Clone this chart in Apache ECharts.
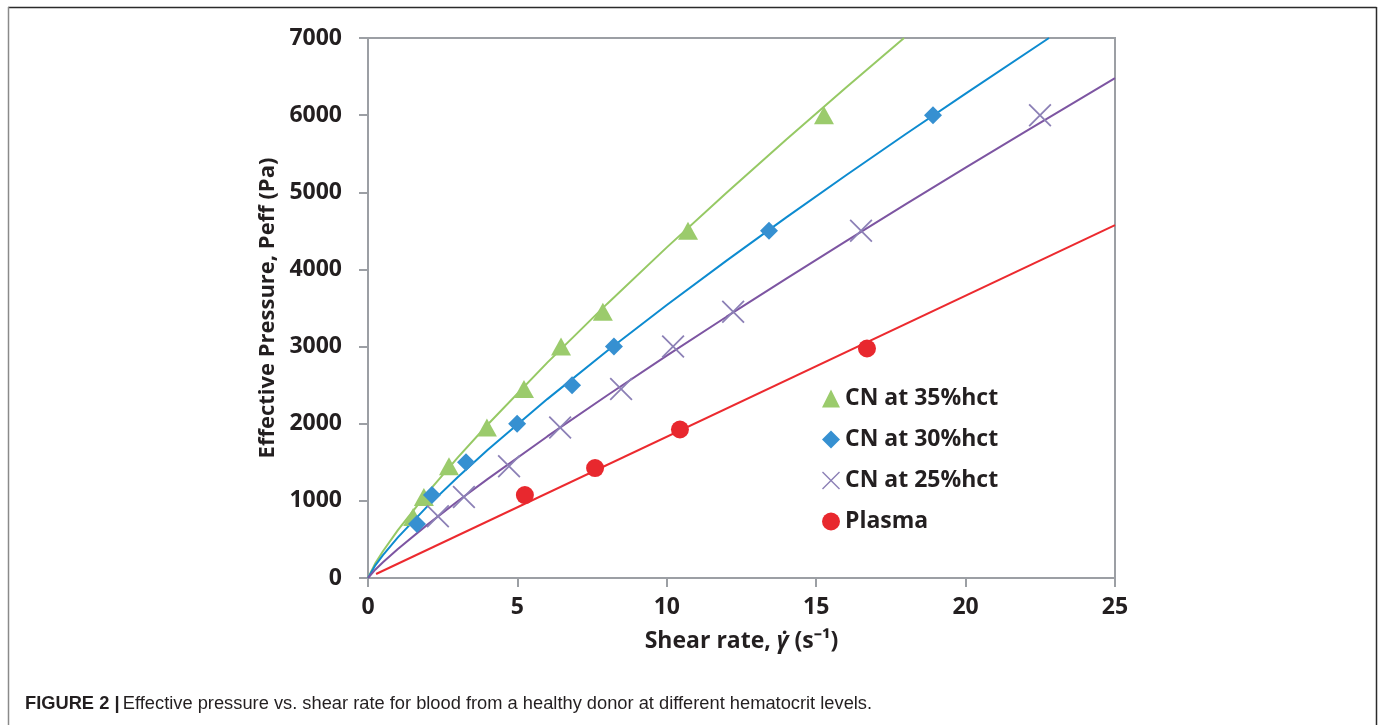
<!DOCTYPE html>
<html>
<head>
<meta charset="utf-8">
<script src="https://cdn.jsdelivr.net/npm/echarts@6/dist/echarts.min.js"></script>
<style>
  html, body { margin: 0; padding: 0; background: #fff; }
  #chart { width: 1379px; height: 725px; }
</style>
</head>
<body>
<div id="chart"></div>
<script>
// Measured points: shear rate (1/s) against effective pressure (Pa)
const hct35Shear = [1.51, 1.87, 2.71, 3.98, 5.22, 6.46, 7.86, 10.71, 15.26];
const hct35Peff  = [790, 1050, 1450, 1950, 2450, 3000, 3450, 4500, 6000];
const hct30Shear = [1.64, 2.14, 3.28, 4.99, 6.83, 8.23, 13.42, 18.91];
const hct30Peff  = [700, 1075, 1500, 2000, 2500, 3000, 4500, 6000];
const hct25Shear = [2.34, 3.21, 4.72, 6.43, 8.47, 10.21, 12.22, 16.5, 22.49];
const hct25Peff  = [800, 1050, 1450, 1950, 2450, 3000, 3450, 4500, 6000];
const plasmaShear = [5.25, 7.6, 10.44, 16.7];
const plasmaPeff  = [1075, 1425, 1925, 2975];

// Trend curves through each data set
const fit35Shear = [0, 0.25, 0.5, 1, 2, 3, 4, 6, 8, 10, 12, 14, 16, 17.94];
const fit35Peff  = [0, 194, 347, 621, 1111, 1561, 1987, 2792, 3553, 4286, 4995, 5684, 6358, 7000];
const fit30Shear = [0, 0.25, 0.5, 1, 2, 3, 4, 6, 8, 10, 12, 14, 16, 18, 20, 22.79];
const fit30Peff  = [0, 167, 297, 527, 935, 1307, 1659, 2319, 2942, 3538, 4114, 4674, 5221, 5755, 6278, 7000];
const fit25Shear = [0, 0.25, 0.5, 1, 2, 3, 4, 6, 8, 10, 12, 14, 16, 18, 20, 22, 25];
const fit25Peff  = [0, 111, 204, 377, 695, 994, 1282, 1835, 2366, 2882, 3387, 3881, 4367, 4846, 5320, 5787, 6480];
const fitPlasmaShear = [0.27, 25];
const fitPlasmaPeff  = [52, 4575];

// Axis ticks
const xTicks = [0, 5, 10, 15, 20, 25];
const yTicks = [0, 1000, 2000, 3000, 4000, 5000, 6000, 7000];

const seriesNames = ['CN at 35%hct', 'CN at 30%hct', 'CN at 25%hct', 'Plasma'];
const captionBold = 'FIGURE 2 |';
const captionText = 'Effective pressure vs. shear rate for blood from a healthy donor at different hematocrit levels.';

const pairs = (xs, ys) => xs.map((x, i) => [x, ys[i]]);

const crossPath = 'path://M0,1.1L1.1,0L10,8.9L18.9,0L20,1.1L11.1,10L20,18.9L18.9,20L10,11.1L1.1,20L0,18.9L8.9,10Z';

const axisGrey = '#9c9fa4';
const labelFont = { fontFamily: 'Open Sans', fontWeight: 'bold', fontSize: 23, color: '#231f20' };

const chart = echarts.init(document.getElementById('chart'), null, { renderer: 'canvas' });

function trend(xs, ys, color) {
  return {
    type: 'line', data: pairs(xs, ys), symbol: 'none', smooth: false, z: 2,
    lineStyle: { color: color, width: 2 }, silent: true, legendHoverLink: false
  };
}

chart.setOption({
  animation: false,
  backgroundColor: '#fff',
  grid: {
    left: 368, right: 264, top: 38, bottom: 147,
    show: true, borderColor: axisGrey, borderWidth: 2, backgroundColor: 'transparent'
  },
  xAxis: {
    type: 'value', min: xTicks[0], max: xTicks[xTicks.length - 1], interval: xTicks[1] - xTicks[0],
    axisLine: { show: true, lineStyle: { color: axisGrey, width: 2 } },
    axisTick: { show: true, inside: false, length: 9, lineStyle: { color: axisGrey, width: 2 } },
    splitLine: { show: false },
    axisLabel: Object.assign({ margin: 18, formatter: v => String(v) }, labelFont),
    name: '{a|Shear rate, }{g|γ̇}{a| (s⁻¹)}',
    nameLocation: 'middle', nameGap: 52,
    nameTextStyle: {
      rich: {
        a: { fontFamily: 'Open Sans', fontWeight: 'bold', fontSize: 23, color: '#231f20' },
        g: { fontFamily: 'Open Sans', fontWeight: 'bold', fontStyle: 'italic', fontSize: 23, color: '#231f20' }
      }
    }
  },
  yAxis: {
    type: 'value', min: yTicks[0], max: yTicks[yTicks.length - 1], interval: yTicks[1] - yTicks[0],
    axisLine: { show: true, lineStyle: { color: axisGrey, width: 2 } },
    axisTick: { show: true, inside: false, length: 9, lineStyle: { color: axisGrey, width: 2 } },
    splitLine: { show: false },
    axisLabel: Object.assign({ margin: 26, formatter: v => String(v) }, labelFont),
    name: 'Effective Pressure, Peff (Pa)',
    nameLocation: 'middle', nameGap: 84, nameRotate: 90,
    nameTextStyle: { fontFamily: 'Open Sans', fontWeight: 'bold', fontSize: 22, color: '#231f20' }
  },
  legend: {
    data: seriesNames,
    orient: 'vertical', left: 817, top: 382,
    itemWidth: 18, itemHeight: 18, itemGap: 18,
    selectedMode: false,
    textStyle: { fontFamily: 'Open Sans', fontWeight: 'bold', fontSize: 23, color: '#231f20' }
  },
  series: [
    trend(fit35Shear, fit35Peff, '#96c964'),
    trend(fit30Shear, fit30Peff, '#0d8bd0'),
    trend(fit25Shear, fit25Peff, '#7d55a2'),
    trend(fitPlasmaShear, fitPlasmaPeff, '#ec2a2f'),
    {
      name: seriesNames[0], type: 'scatter', data: pairs(hct35Shear, hct35Peff), z: 3,
      symbol: 'triangle', symbolSize: [20, 18], itemStyle: { color: '#9bcb6c', opacity: 1 }
    },
    {
      name: seriesNames[1], type: 'scatter', data: pairs(hct30Shear, hct30Peff), z: 3,
      symbol: 'diamond', symbolSize: 18, itemStyle: { color: '#3690d1', opacity: 1 }
    },
    {
      name: seriesNames[2], type: 'scatter', data: pairs(hct25Shear, hct25Peff), z: 3,
      symbol: crossPath, symbolSize: 23, itemStyle: { color: '#8c80b6', opacity: 1 }
    },
    {
      name: seriesNames[3], type: 'scatter', data: pairs(plasmaShear, plasmaPeff), z: 3,
      symbol: 'circle', symbolSize: 18, itemStyle: { color: '#e8282e', opacity: 1 }
    }
  ],
  graphic: [
    // figure frame
    { type: 'line', shape: { x1: 8, y1: 7.5, x2: 1376.5, y2: 7.5 }, style: { stroke: '#2b2b2b', lineWidth: 1.5 }, silent: true },
    { type: 'line', shape: { x1: 8.5, y1: 7, x2: 8.5, y2: 725 }, style: { stroke: '#8a8a8a', lineWidth: 1.5 }, silent: true },
    { type: 'line', shape: { x1: 1376.5, y1: 7, x2: 1376.5, y2: 725 }, style: { stroke: '#2b2b2b', lineWidth: 1.5 }, silent: true },
    // caption
    {
      type: 'text', left: 25, top: 695, silent: true,
      style: {
        text: '{b|' + captionBold + '} {n|' + captionText + '}',
        rich: {
          b: { fontFamily: 'Liberation Sans', fontWeight: 'bold', fontSize: 18.3, fill: '#231f20' },
          n: { fontFamily: 'Liberation Sans', fontSize: 18.3, fill: '#231f20' }
        }
      }
    }
  ]
});
</script>
</body>
</html>
